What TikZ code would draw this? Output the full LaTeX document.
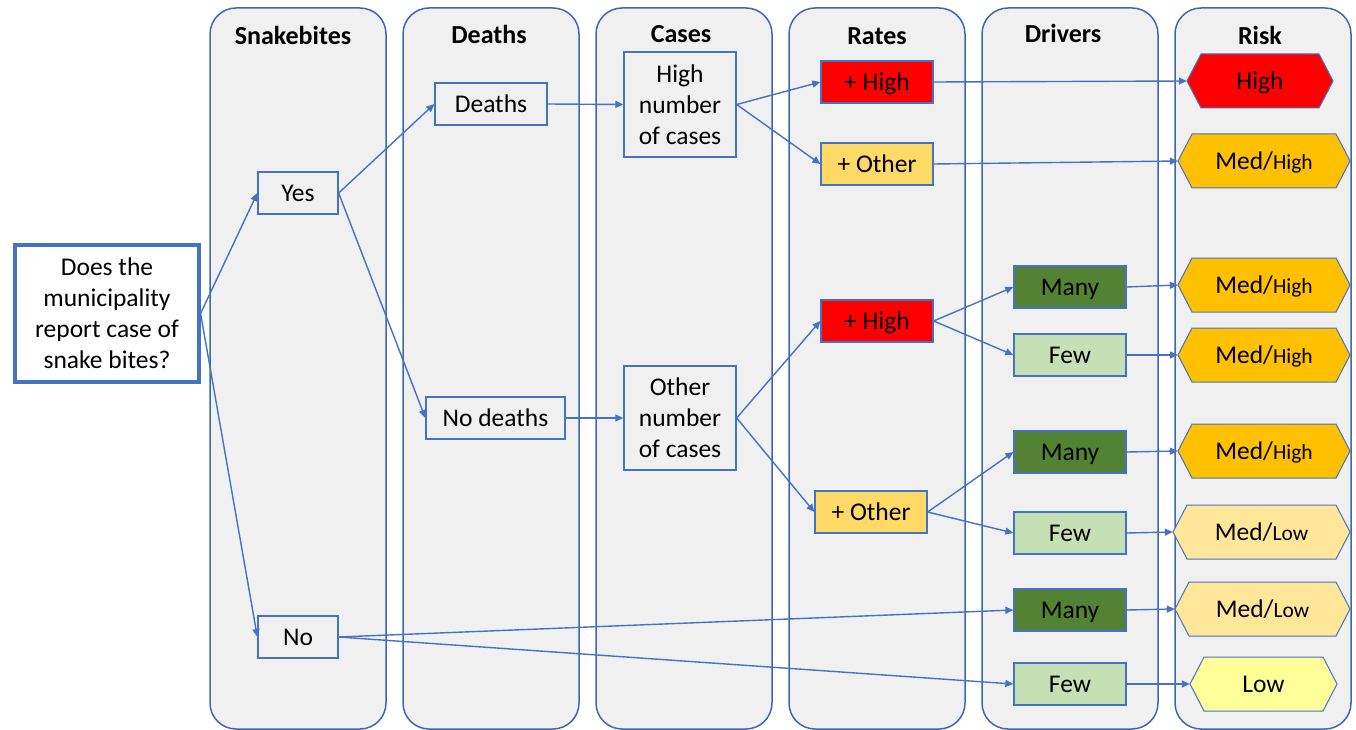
\documentclass[tikz,border=0pt]{standalone}
\usepackage{fontspec}
\setmainfont{Carlito}
\usetikzlibrary{arrows.meta}
\definecolor{lanefill}{HTML}{F0F0F0}
\definecolor{bl}{HTML}{4472C4}
\definecolor{laneline}{HTML}{3F67B0}
\definecolor{redc}{HTML}{FF0000}
\definecolor{orangec}{HTML}{FFC000}
\definecolor{lightor}{HTML}{FFE699}
\definecolor{yelc}{HTML}{FFFF99}
\definecolor{otherc}{HTML}{FFD966}
\definecolor{darkg}{HTML}{548235}
\definecolor{lightg}{HTML}{C5E0B4}
\newcommand\hexnode[6]{%
  \path[hexline, fill=#5] ({#2-#4/2},#3) -- ({#2-#4/2+14},{#3-27}) -- ({#2+#4/2-14},{#3-27}) -- ({#2+#4/2},#3) -- ({#2+#4/2-14},{#3+27}) -- ({#2-#4/2+14},{#3+27}) -- cycle;
  \node[minimum width=#4, minimum height=54, inner sep=0pt, text depth=0pt, font=\txt] (#1) at (#2,#3) {#6};}
\newcommand\txt{\fontsize{25.5}{31}\selectfont}
\newcommand\smalltxt{\fontsize{21.5}{24}\selectfont}
\begin{document}
\begin{tikzpicture}[x=1pt,y=-1pt,
  lane/.style={draw=laneline, fill=lanefill, line width=1.5pt, rounded corners=26pt},
  head/.style={font=\fontsize{26}{29}\selectfont\bfseries},
  box/.style={draw=bl, line width=1.3pt, inner sep=0pt, font=\txt, align=center},
  one/.style={box, text depth=0pt, minimum height=42},
  hexline/.style={draw=bl, line width=1pt},
  arr/.style={draw=bl, line width=1.4pt, -{Triangle[length=8pt,width=7pt]}}]
\useasboundingbox (0,0) rectangle (1356,730);
% lanes
\foreach \x/\n in {210/Snakebites,403/Deaths,596/Cases,789/Rates,982/Drivers,1175/Risk}{
  \path[lane] (\x,8) rectangle ++(176,721);
}
\node[head] (h1) at (293,35) {Snakebites};
\node[head] (h2) at (489,34) {Deaths};
\node[head] (h3) at (681,34) {Cases};
\node[head] (h4) at (877,36) {Rates};
\node[head] (h5) at (1063,33) {Drivers};
\node[head] (h6) at (1260,35) {Risk};
% question
\node[box, line width=3.2pt, fill=white, minimum width=184, minimum height=137] (q) at (107,313.5) {Does the\\municipality\\report case of\\snake bites?};
% snakebites
\node[one, minimum width=80] (yes) at (298,193) {Yes};
\node[one, minimum width=80] (no) at (298,637) {No};
% deaths
\node[one, minimum width=112] (dth) at (491,104) {Deaths};
\node[one, minimum width=139] (nod) at (495.5,418) {No deaths};
% cases
\node[box, minimum width=112, minimum height=105] (hc) at (680,104.5) {High\\number\\of cases};
\node[box, minimum width=112, minimum height=104] (oc) at (680,418) {Other\\number\\of cases};
% rates
\node[one, fill=redc, minimum width=112] (rh1) at (877,82) {+ High};
\node[one, fill=otherc, minimum width=112] (ro1) at (877,164) {+ Other};
\node[one, fill=redc, minimum width=112] (rh2) at (877,321) {+ High};
\node[one, fill=otherc, minimum width=112] (ro2) at (871,512) {+ Other};
% drivers
\node[one, fill=darkg, minimum width=112] (m1) at (1070,287) {Many};
\node[one, fill=lightg, minimum width=112] (f1) at (1070,355) {Few};
\node[one, fill=darkg, minimum width=112] (m2) at (1070,452) {Many};
\node[one, fill=lightg, minimum width=112] (f2) at (1070,533) {Few};
\node[one, fill=darkg, minimum width=112] (m3) at (1070,610) {Many};
\node[one, fill=lightg, minimum width=112] (f3) at (1070,684) {Few};
% risk
\hexnode{k1}{1260}{81}{146}{redc}{High}
\hexnode{k2}{1264}{161}{172}{orangec}{Med/{\smalltxt High}}
\hexnode{k3}{1264}{285}{172}{orangec}{Med/{\smalltxt High}}
\hexnode{k4}{1264}{355}{172}{orangec}{Med/{\smalltxt High}}
\hexnode{k5}{1264}{451}{172}{orangec}{Med/{\smalltxt High}}
\hexnode{k6}{1261.5}{532}{177}{lightor}{Med/{\smalltxt Low}}
\hexnode{k7}{1262.5}{609}{175}{lightor}{Med/{\smalltxt Low}}
\hexnode{k8}{1263.5}{684}{147}{yelc}{Low}
% connectors
\draw[arr] (q.east) -- (yes.west);
\draw[arr] (q.east) -- (no.west);
\draw[arr] (yes.east) -- (dth.west);
\draw[arr] (yes.east) -- (nod.west);
\draw[arr] (dth.east) -- (hc.west);
\draw[arr] (nod.east) -- (oc.west);
\draw[arr] (hc.east) -- (rh1.west);
\draw[arr] (hc.east) -- (ro1.west);
\draw[arr] (oc.east) -- (rh2.west);
\draw[arr] (oc.east) -- (ro2.west);
\draw[arr] (rh1.east) -- (k1.west);
\draw[arr] (ro1.east) -- (k2.west);
\draw[arr] (rh2.east) -- (m1.west);
\draw[arr] (rh2.east) -- (f1.west);
\draw[arr] (ro2.east) -- (m2.west);
\draw[arr] (ro2.east) -- (f2.west);
\draw[arr] (no.east) -- (m3.west);
\draw[arr] (no.east) -- (f3.west);
\draw[arr] (m1.east) -- (k3.west);
\draw[arr] (f1.east) -- (k4.west);
\draw[arr] (m2.east) -- (k5.west);
\draw[arr] (f2.east) -- (k6.west);
\draw[arr] (m3.east) -- (k7.west);
\draw[arr] (f3.east) -- (k8.west);
\end{tikzpicture}
\end{document}
